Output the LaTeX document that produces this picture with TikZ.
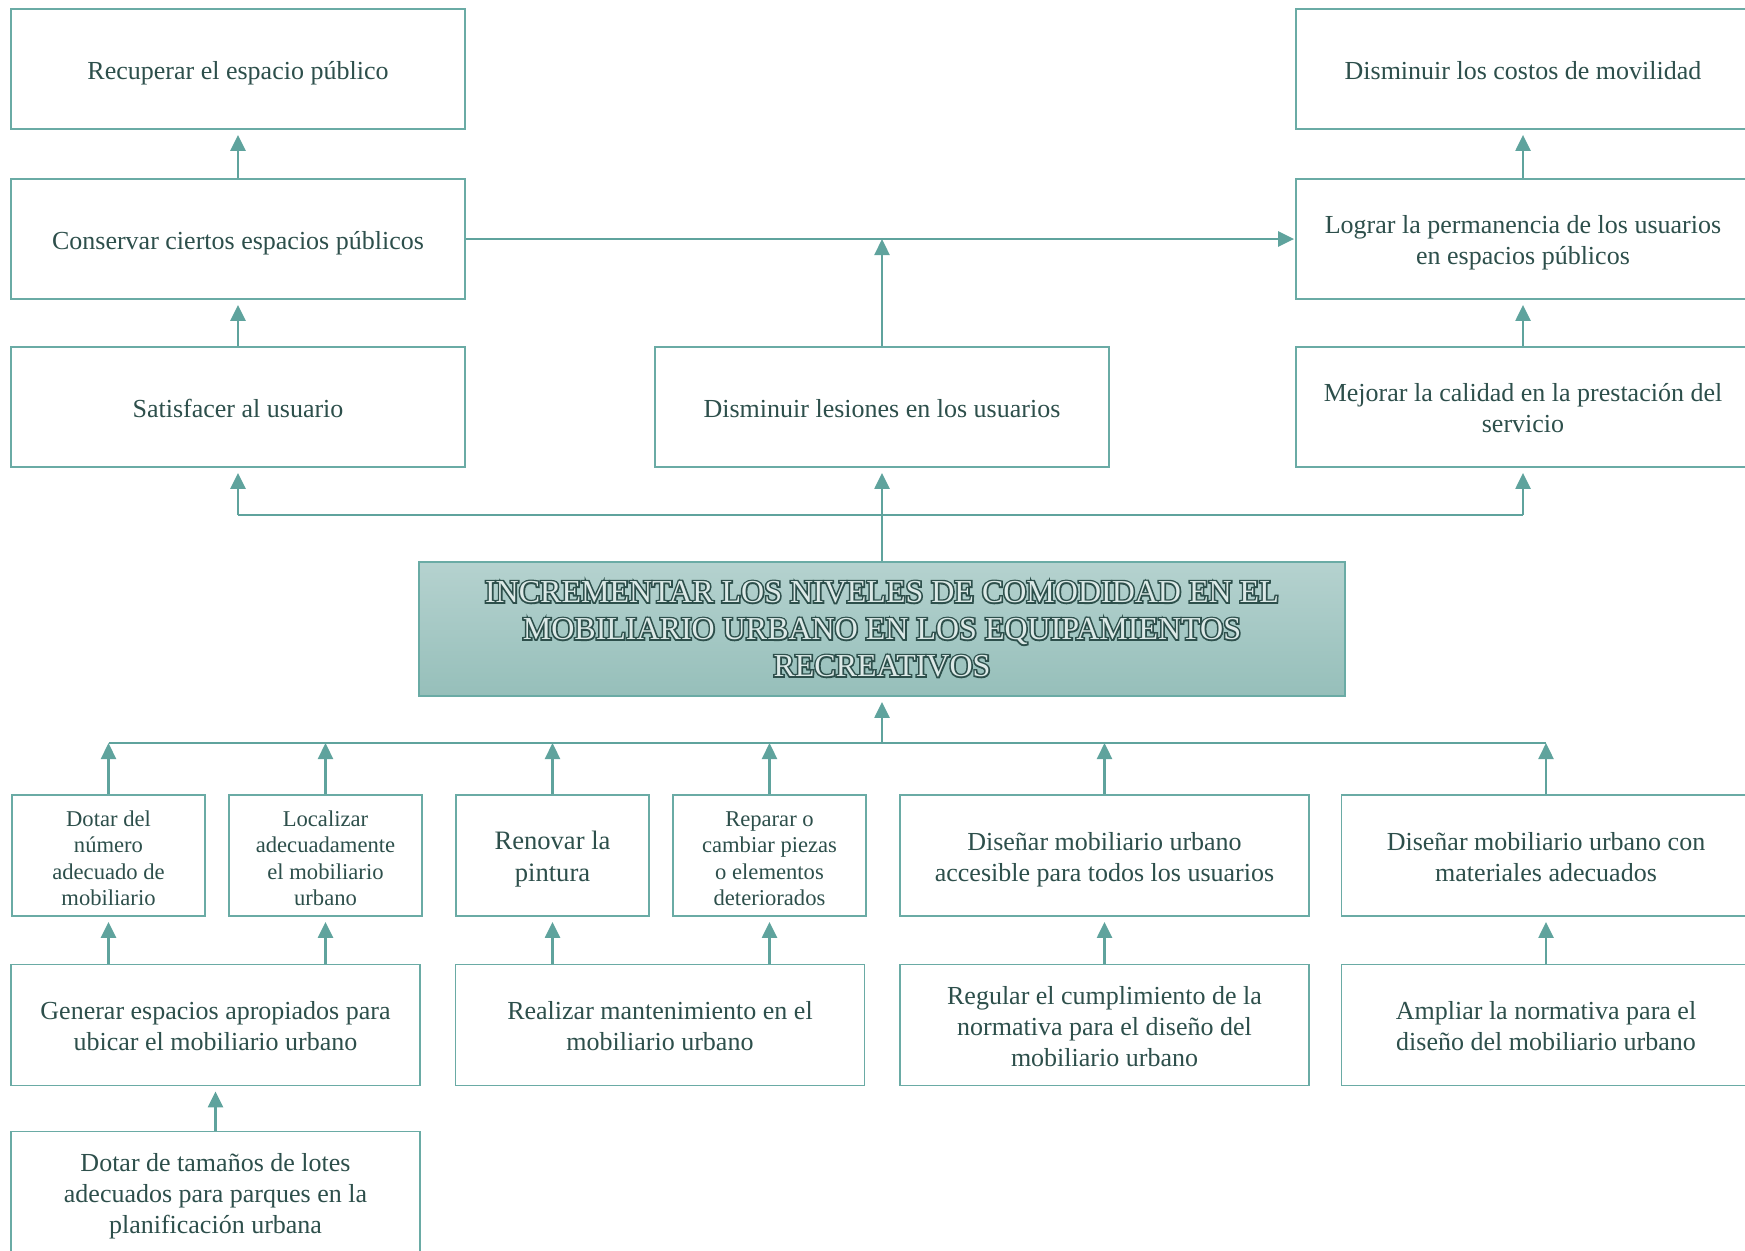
\documentclass[tikz,border=0pt]{standalone}
\usepackage{fontspec}
\setmainfont{Liberation Serif}
\usetikzlibrary{arrows.meta}
\definecolor{ln}{HTML}{5FA39D}
\definecolor{bd}{HTML}{6AABA5}
\definecolor{tx}{HTML}{2D4F4B}
\definecolor{ttop}{HTML}{B5D2CF}
\definecolor{tbot}{HTML}{96BFBA}
\definecolor{tin}{HTML}{DCE9E7}
\newcommand\darkoutline{\special{pdf:literal direct 2 Tr 1.6 w}}
\newcommand\plainfill{\special{pdf:literal direct 0 Tr}}
\newcommand\tp{\rule{0pt}{13.3pt}}
\newcommand\titletext{INCREMENTAR LOS NIVELES DE COMODIDAD EN EL\\MOBILIARIO URBANO EN LOS EQUIPAMIENTOS\\RECREATIVOS}
\begin{document}
\begin{tikzpicture}[x=0.5pt,y=-0.5pt,
  box/.style={draw=bd, line width=0.9pt, fill=white, align=center, text=tx, inner sep=2pt,
    font=\fontsize{13}{15.5}\selectfont,
    execute at begin node={\rule{0pt}{13.8pt}},
    execute at end node={\rule[-3pt]{0pt}{3pt}}},
  wide/.style={box, minimum width=227pt, minimum height=60pt},
  half/.style={box, minimum width=204.5pt, minimum height=60.5pt},
  small/.style={box, minimum width=96.5pt, minimum height=60.5pt, font=\fontsize{11.3}{13.2}\selectfont},
  titlefont/.style={minimum width=463pt, minimum height=67pt, align=center,
    font=\fontsize{16}{18.5}\selectfont},
  conn/.style={draw=ln, line width=1.2pt},
  arrt/.style={conn, -{Triangle[length=8pt,width=7.5pt]}},
  arr/.style={arrt, shorten >=2.5pt}]
\useasboundingbox (0,0) rectangle (1745,1250);

% top part
\node[wide] (recup)   at (238,69)  {Recuperar el espacio público};
\node[wide] (conserv) at (238,239) {Conservar ciertos espacios públicos};
\node[wide] (satisf)  at (238,407) {Satisfacer al usuario};
\node[wide] (lesion)  at (882,407) {Disminuir lesiones en los usuarios};
\node[wide] (costos)  at (1523,69) {Disminuir los costos de movilidad};
\node[wide] (lograr)  at (1523,239) {\tp Lograr la permanencia de los usuarios\\en espacios públicos};
\node[wide] (mejorar) at (1523,407) {\tp Mejorar la calidad en la prestación del\\servicio};

% central problem
\node[titlefont, draw=bd, line width=0.9pt, top color=ttop, bottom color=tbot, text=tx]
  (title) at (882,629) {\darkoutline\titletext};
\node[titlefont, text=tin] (title-in) at (title.center) {\plainfill\titletext};

% bottom row A
\node[small] (dotar)     at (108.5,855.5) {\tp Dotar del\\número\\adecuado de\\mobiliario};
\node[small] (localizar) at (325.5,855.5) {\tp Localizar\\adecuadamente\\el mobiliario\\urbano};
\node[small, font=\fontsize{13.3}{16}\selectfont] (renovar) at (552.5,855.5) {\tp Renovar la\\pintura};
\node[small] (reparar)   at (769.5,855.5) {\tp Reparar o\\cambiar piezas\\o elementos\\deteriorados};
\node[half] (accesible)  at (1104.5,855.5) {\tp Diseñar mobiliario urbano\\accesible para todos los usuarios};
\node[half] (materiales) at (1546,855.5) {\tp Diseñar mobiliario urbano con\\materiales adecuados};

% bottom row B
\node[half] (generar)  at (215.5,1025) {\tp Generar espacios apropiados para\\ubicar el mobiliario urbano};
\node[half] (realizar) at (660,1025)   {\tp Realizar mantenimiento en el\\mobiliario urbano};
\node[half] (regular)  at (1104.5,1025) {\tp Regular el cumplimiento de la\\normativa para el diseño del\\mobiliario urbano};
\node[half] (ampliar)  at (1546,1025)  {\tp Ampliar la normativa para el\\diseño del mobiliario urbano};

% bottom row C
\node[half] (lotes) at (215.5,1192) {\tp Dotar de tamaños de lotes\\adecuados para parques en la\\planificación urbana};

% top connectors
\draw[arr] (conserv.north) -- (recup.south);
\draw[arr] (satisf.north) -- (conserv.south);
\draw[arrt, shorten >=0.5pt] (conserv.east) -- (lograr.west);
\draw[arrt] (lesion.north) -- (lesion.north |- conserv.east);
\draw[arr] (lograr.north) -- (costos.south);
\draw[arr] (mejorar.north) -- (lograr.south);

\coordinate (hb) at (882,515);
\draw[arr] (title.north) -- (lesion.south);
\draw[conn] (satisf.south |- hb) -- (mejorar.south |- hb);
\draw[arr] (satisf.south |- hb) -- (satisf.south);
\draw[arr] (mejorar.south |- hb) -- (mejorar.south);

% bottom connectors
\coordinate (hl) at (882,743);
\draw[conn] (dotar.north |- hl) -- (materiales.north |- hl);
\draw[arr] (hl) -- (title.south);
\foreach \n in {dotar,localizar,renovar,reparar,accesible,materiales}
  \draw[arrt] (\n.north) -- (\n.north |- hl);

\draw[arr] (generar.north -| dotar.south) -- (dotar.south);
\draw[arr] (generar.north -| localizar.south) -- (localizar.south);
\draw[arr] (realizar.north -| renovar.south) -- (renovar.south);
\draw[arr] (realizar.north -| reparar.south) -- (reparar.south);
\draw[arr] (regular.north) -- (accesible.south);
\draw[arr] (ampliar.north) -- (materiales.south);
\draw[arr] (lotes.north) -- (generar.south);
\end{tikzpicture}
\end{document}
